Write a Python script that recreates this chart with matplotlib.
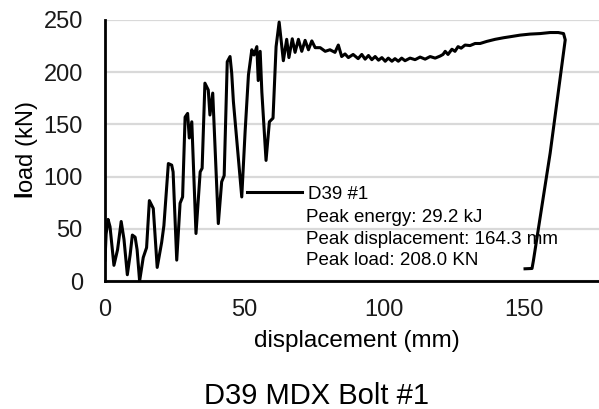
import matplotlib
matplotlib.use('Agg')
import matplotlib.pyplot as plt
from matplotlib.lines import Line2D

plt.rcParams['font.family'] = ['Liberation Sans', 'DejaVu Sans']
plt.rcParams['mathtext.fontset'] = 'custom'
plt.rcParams['mathtext.bf'] = 'Liberation Sans:bold'
plt.rcParams['mathtext.rm'] = 'Liberation Sans'

# load-displacement trace
disp = [0, 0.4, 1.1, 1.8, 3.2, 4.5, 5.8, 6.8, 8.0, 9.0,
        9.8, 10.8, 11.5, 12.4, 13.7, 14.9, 15.9, 17.3, 18.7, 20.3,
        21.1, 22.7, 23.9, 24.4, 25.7, 26.9, 27.8, 28.7, 29.6, 30.2,
        31.1, 32.6, 34.1, 34.8, 35.8, 37.0, 37.6, 38.6, 40.6, 41.8,
        42.7, 43.8, 44.8, 45.4, 46.0, 49.0, 50.2, 51.4, 52.6, 53.4,
        54.4, 54.9, 55.6, 56.2, 57.7, 58.9, 60.2, 61.3, 62.4, 63.9,
        65.1, 65.9, 67.1, 68.1, 69.3, 70.5, 71.7, 72.9, 74.1, 75.3,
        77.1, 78.9, 80.6, 82.4, 83.6, 84.8, 86.0, 87.2, 88.9, 90.7,
        92.0, 93.2, 94.4, 95.6, 96.8, 98.0, 99.2, 100.4, 101.5, 102.8,
        103.9, 105.1, 106.3, 107.5, 109.3, 111.1, 112.9, 114.7, 116.5, 118.3,
        120.1, 121.1, 121.9, 122.9, 124.3, 125.4, 126.5, 127.6, 129.0, 130.8,
        132.6, 134.4, 136.8, 139.8, 142.8, 145.2, 148.7, 152.3, 155.9, 159.5,
        162.4, 164.3, 164.9, 159.5, 153.5, 153.0, 150.5]
load = [20, 45, 59, 52, 15, 30, 57, 40, 6, 25,
        44, 42, 30, 0, 22.5, 32, 77, 69.5, 13, 37,
        53, 112.5, 111, 104.5, 20, 74.5, 80.5, 157, 160.5, 137,
        152.5, 45.5, 104.5, 108, 189.5, 183, 159, 180, 55, 95,
        101, 210, 215, 199, 172, 80.5, 143, 197.5, 221.5, 216.5,
        224.5, 192, 220, 181, 115.5, 152.5, 156, 224.5, 248, 211,
        231.5, 214, 232, 219, 231.5, 220, 230.5, 221.5, 230, 223.5,
        223.5, 220, 221.5, 219, 226, 215, 217.5, 214, 217, 213,
        217, 212.5, 216, 212, 215, 211.5, 214, 210.5, 213.5, 210.5,
        213, 210.5, 213.5, 211, 213.5, 212, 214.5, 212.5, 215, 213.5,
        215.5, 217, 220, 217, 222, 220, 224.5, 223, 226, 225.5,
        227.5, 227.5, 229.5, 231.5, 233, 234, 235.5, 236.5, 237, 238,
        238, 237, 231, 122.5, 19.5, 12, 11.7]

x_ticks = [0, 50, 100, 150]
y_ticks = [0, 50, 100, 150, 200, 250]
series_name = 'D39 #1'
notes = ['Peak energy: 29.2 kJ', 'Peak displacement: 164.3 mm', 'Peak load: 208.0 KN']

W, H = 599, 409
fig = plt.figure(figsize=(W / 100, H / 100), dpi=100)
ax = fig.add_axes([105 / W, 1 - 281 / H, (W - 105) / W, 261 / H])

ax.plot(disp, load, color='black', linewidth=2.2, zorder=3)

ax.set_xlim(0, 177)
ax.set_ylim(0, 250)
ax.set_xticks(x_ticks)
ax.set_yticks(y_ticks)
ax.grid(axis='y', color='#d9d9d9', linewidth=1.6, zorder=0)
ax.set_axisbelow(True)
for s in ['top', 'right']:
    ax.spines[s].set_visible(False)
for s in ['left', 'bottom']:
    ax.spines[s].set_linewidth(2)
    ax.spines[s].set_color('black')
ax.tick_params(axis='both', length=0, labelsize=17, colors='#1a1a1a')
ax.tick_params(axis='y', pad=16)
ax.tick_params(axis='x', pad=13)

# legend: line + series name, then notes underneath
h = Line2D([0], [0], color='black', linewidth=2.2)
ax.legend([h], [series_name], loc='center left', bbox_to_anchor=(247 / W, 1 - 194 / H),
          bbox_transform=fig.transFigure, frameon=False, fontsize=13.5,
          borderpad=0, borderaxespad=0, handlelength=2.95, handletextpad=0.28)
for i, t in enumerate(notes):
    fig.text(306 / W, 1 - (222 + 21.5 * i) / H, t, fontsize=13.5, va='baseline', ha='left')

fig.text(357 / W, 1 - 341 / H, 'displacement (mm)', fontsize=17.5, ha='center', va='center')
fig.text(27 / W, 1 - 150 / H, r'$\mathbf{l}$oad (kN)', fontsize=17, rotation=90,
         ha='center', va='center')
fig.text(317 / W, 1 - 396 / H, 'D39 MDX Bolt #1', fontsize=21, ha='center', va='center')

fig.savefig('out.png', dpi=100)
